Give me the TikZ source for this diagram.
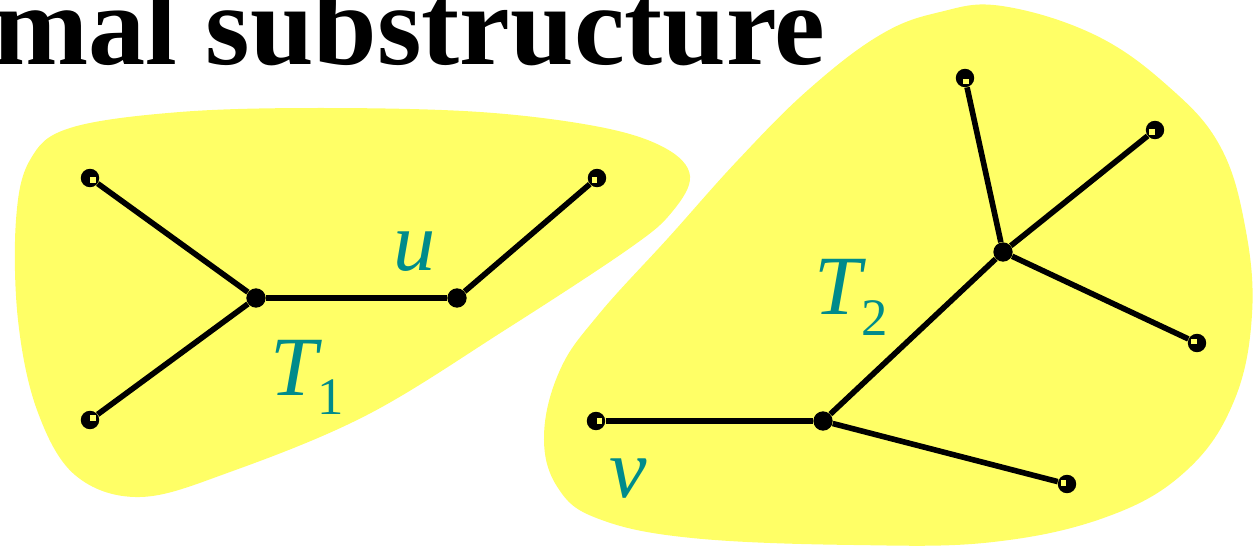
\documentclass[tikz,border=0pt]{standalone}
\usepackage{fontspec}
\setmainfont{Liberation Serif}
\usetikzlibrary{calc}
\definecolor{blobyellow}{RGB}{255,255,102}
\definecolor{labelteal}{RGB}{0,139,139}
\newcommand{\leafmark}[2]{\fill[blobyellow] ($(#1.center)!2pt!(#2.center)$) +(-2.8,-2.8) rectangle +(2.8,2.8);}

\begin{document}
\begin{tikzpicture}[x=0.02cm,y=-0.02cm]
\tikzset{
  hubnode/.style={circle,fill=black,minimum size=11pt,inner sep=0pt},
  leafnode/.style={circle,fill=black,minimum size=10.5pt,inner sep=0pt},
  treeline/.style={line width=3.2pt},
  blob/.style={fill=blobyellow,draw=none},
  tlabel/.style={text=labelteal,font=\fontsize{48}{48}\selectfont\itshape,inner sep=0pt},
  titletext/.style={font=\fontsize{65}{65}\selectfont\bfseries,inner sep=0pt}
}
\useasboundingbox (0,0) rectangle (1256,547);
\clip (0,0) rectangle (1256,547);
% the two yellow regions
\fill[blob] plot[smooth cycle,tension=0.6] coordinates {(70,128) (180,112) (321,108) (480,112) (600,127) (665,148) (690,176) (672,212) (630,248) (505,330) (367,415) (230,472) (140,497) (75,475) (37,410) (18,320) (16,220) (30,160)};
\fill[blob] plot[smooth cycle,tension=0.65] coordinates {(1002,6) (1095,35) (1169,87) (1220,146) (1245,226) (1252,314) (1234,401) (1187,470) (1109,516) (993,542) (854,545) (692,538) (599,519) (558,488) (544,436) (560,370) (599,314) (669,237) (738,160) (808,90) (880,35) (940,12)};
\node[titletext,anchor=base east] (title) at (826,65) {mal substructure};
% tree T1
\node[leafnode] (n_l1) at (90,178) {};
\node[leafnode] (n_l2) at (90,420) {};
\node[hubnode] (n_w) at (256,298) {};
\node[hubnode] (n_u) at (457,298) {};
\node[leafnode] (n_l3) at (597,178) {};
% tree T2
\node[leafnode] (n_v) at (596,421) {};
\node[hubnode] (n_x) at (823,421) {};
\node[hubnode] (n_y) at (1003,252) {};
\node[leafnode] (n_r1) at (965,78) {};
\node[leafnode] (n_r2) at (1155,130) {};
\node[leafnode] (n_r3) at (1197,343) {};
\node[leafnode] (n_r4) at (1067,484) {};
\draw[treeline] (n_l1) -- (n_w);
\draw[treeline] (n_l2) -- (n_w);
\draw[treeline] (n_w) -- (n_u);
\draw[treeline] (n_u) -- (n_l3);
\draw[treeline] (n_v) -- (n_x);
\draw[treeline] (n_x) -- (n_r4);
\draw[treeline] (n_x) -- (n_y);
\draw[treeline] (n_y) -- (n_r1);
\draw[treeline] (n_y) -- (n_r2);
\draw[treeline] (n_y) -- (n_r3);
\leafmark{n_l1}{n_w}
\leafmark{n_l2}{n_w}
\leafmark{n_l3}{n_u}
\leafmark{n_v}{n_x}
\leafmark{n_r1}{n_y}
\leafmark{n_r2}{n_y}
\leafmark{n_r3}{n_y}
\leafmark{n_r4}{n_x}
% labels
\node[tlabel,anchor=base] (lbl_u) at (415,270) {u};
\node[tlabel,anchor=base] (lbl_v) at (628,497) {v};
\node[tlabel,anchor=base west] (lbl_t1) at (270,395) {T\raisebox{-11pt}{\fontsize{30}{30}\selectfont\upshape 1}};
\node[tlabel,anchor=base west] (lbl_t2) at (814,314) {T\raisebox{-12.5pt}{\fontsize{30}{30}\selectfont\upshape 2}};
\end{tikzpicture}
\end{document}
